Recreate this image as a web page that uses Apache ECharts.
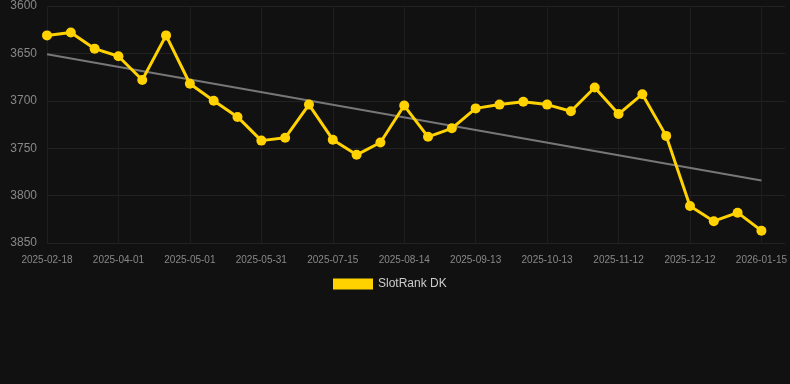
<!DOCTYPE html>
<html>
<head>
<meta charset="utf-8">
<script src="https://cdn.jsdelivr.net/npm/echarts@6/dist/echarts.min.js"></script>
<style>
html,body{margin:0;padding:0;background:#111111;}
#chart{width:790px;height:384px;}
</style>
</head>
<body>
<div id="chart"></div>
<script>
const categories = [
  "2025-02-18","2025-03-04","2025-03-18","2025-04-01","2025-04-11","2025-04-21",
  "2025-05-01","2025-05-11","2025-05-21","2025-05-31","2025-06-15","2025-06-30",
  "2025-07-15","2025-07-25","2025-08-04","2025-08-14","2025-08-24","2025-09-03",
  "2025-09-13","2025-09-23","2025-10-03","2025-10-13","2025-10-23","2025-11-02",
  "2025-11-12","2025-11-22","2025-12-02","2025-12-12","2025-12-23","2026-01-04",
  "2026-01-15",""
];
const rankValues = [
  3631, 3628, 3645, 3653, 3678, 3631, 3682, 3700, 3717, 3742, 3739, 3704,
  3741, 3757, 3744, 3705, 3738, 3729, 3708, 3704, 3701, 3704, 3711, 3686,
  3714, 3693, 3737, 3811, 3827, 3818, 3837
];
const trendStart = 3651;
const trendEnd = 3784;
const seriesName = "SlotRank DK";
const yTicks = { min: 3600, max: 3850, interval: 50 };

const trendData = rankValues.map((v, i) =>
  i === 0 ? trendStart : (i === rankValues.length - 1 ? trendEnd : null));

const chart = echarts.init(document.getElementById('chart'));
chart.setOption({
  backgroundColor: '#111111',
  animation: false,
  grid: { left: 47, right: 4, top: 6, bottom: 141, containLabel: false },
  legend: {
    data: [seriesName],
    top: 278,
    left: 333,
    padding: 0,
    itemWidth: 40,
    itemHeight: 11,
    itemGap: 10,
    icon: 'rect',
    textStyle: { color: '#cccccc', fontSize: 12, fontFamily: 'Liberation Sans, Arial, sans-serif' }
  },
  xAxis: {
    type: 'category',
    data: categories,
    boundaryGap: false,
    axisLine: { show: false },
    axisTick: { show: false },
    axisLabel: {
      interval: 2, color: '#888888', fontSize: 10, margin: 12,
      fontFamily: 'Liberation Sans, Arial, sans-serif'
    },
    splitLine: { show: true, interval: 2, lineStyle: { color: '#1e1e1e', width: 1 } }
  },
  yAxis: {
    type: 'value',
    inverse: true,
    min: yTicks.min, max: yTicks.max, interval: yTicks.interval,
    axisLine: { show: false },
    axisTick: { show: false },
    axisLabel: {
      color: '#888888', fontSize: 12, margin: 10,
      fontFamily: 'Liberation Sans, Arial, sans-serif',
      formatter: (v) => String(v)
    },
    splitLine: { show: true, lineStyle: { color: '#222222', width: 1 } }
  },
  series: [
    {
      name: 'trend',
      type: 'line',
      data: trendData,
      connectNulls: true,
      showSymbol: false,
      symbol: 'none',
      lineStyle: { color: '#777777', width: 2 },
      silent: true,
      z: 1
    },
    {
      name: seriesName,
      type: 'line',
      data: rankValues,
      symbol: 'circle',
      symbolSize: 10,
      itemStyle: { color: '#FFD200' },
      lineStyle: { color: '#FFD200', width: 3 },
      z: 2
    }
  ]
});
</script>
</body>
</html>
